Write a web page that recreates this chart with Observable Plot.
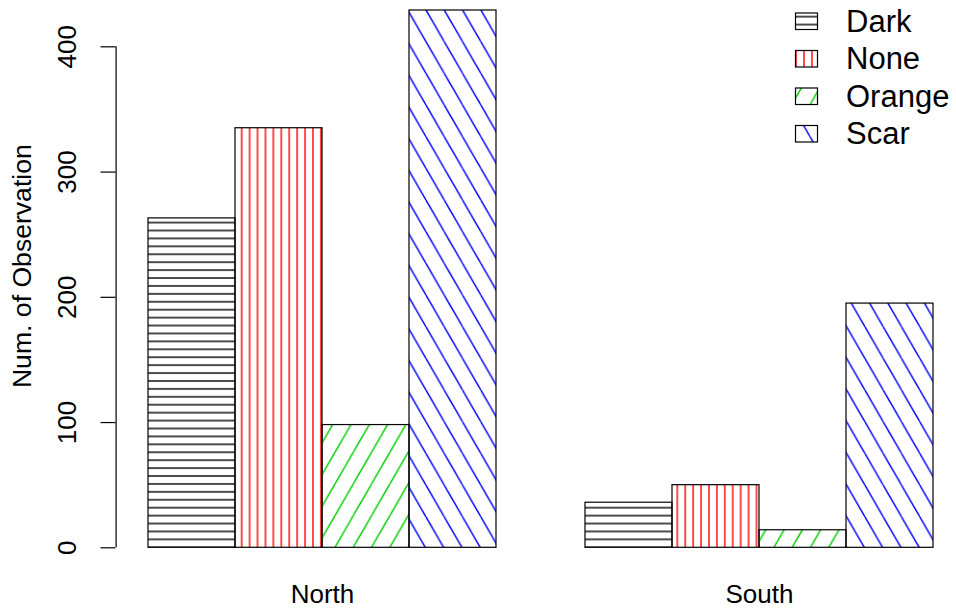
<!DOCTYPE html>
<html>
<head>
<meta charset="utf-8">
<script src="https://cdn.jsdelivr.net/npm/d3@7"></script>
<script src="https://cdn.jsdelivr.net/npm/@observablehq/plot@0.6"></script>
<style>
  html, body { margin: 0; padding: 0; background: #fff; overflow: hidden; }
  #wrap { position: relative; width: 956px; height: 610px; }
</style>
</head>
<body>
<div id="wrap"></div>
<script>
// ---------------- data ----------------
const groups = ["North", "South"];
const categories = ["Dark", "None", "Orange", "Scar"];
const northValues = [263, 335, 98, 429];
const southValues = [36, 50, 14, 195];
const yTicks = [0, 100, 200, 300, 400];
const yLabel = "Num. of Observation";

// ---------------- styles ----------------
const hatchColors = ["#000000", "#ff0000", "#00cd00", "#0000ff"];
const hatchKinds = ["h", "v", "up", "down"];
const hatchAnchors = [[0, 547.3], [241.7, 0], [335, 547.3], [426, 10]]; // phase of the hatch lines (page px)
const HATCH = 7.92;
const HATCH_W = 1.4;
const FONT = "'Liberation Sans', Arial, Helvetica, sans-serif";
const W = 956, H = 610;
const ML = 147, MR = 22, MT = 10, MB = 62.7;
const AXIS_GAP = 31.5, TICK = 15;

const valuesByGroup = {North: northValues, South: southValues};
const table = groups.flatMap(g => categories.map((c, i) => ({group: g, category: c, value: valuesByGroup[g][i]})));

// facet band width (same parameters as the fx scale below)
const fxBand = d3.scaleBand().domain(groups).range([ML, W - MR]).paddingInner(0.2).paddingOuter(0);
const bw = fxBand.bandwidth();
const first = () => groups[0];

const plot = Plot.plot({
  width: W, height: H,
  marginLeft: ML, marginRight: MR, marginTop: MT, marginBottom: MB,
  style: {fontFamily: FONT, background: "#fff", color: "#000", overflow: "visible"},
  fx: {domain: groups, paddingInner: 0.2, paddingOuter: 0, axis: null, label: null},
  x: {domain: categories, padding: 0, axis: null, label: null},
  y: {domain: [0, d3.max(table, d => d.value)], axis: null},
  color: {type: "identity"},
  marks: [
    Plot.barY(table, {
      fx: "group", x: "category", y: "value",
      fill: d => `url(#hatch-${d.category}-${d.group})`,
      stroke: "#000", strokeWidth: 1.2
    }),
    // y axis line (0 .. 400)
    Plot.ruleX([0], {x: null, fx: first, y1: () => yTicks[0], y2: () => yTicks[yTicks.length - 1],
      dx: -(bw / 2 + AXIS_GAP), stroke: "#000", strokeWidth: 1.2}),
    // y ticks
    Plot.axisY(yTicks, {anchor: "left", tickSize: TICK, dx: -AXIS_GAP, fill: "none", label: null, stroke: "#000", strokeWidth: 1.2}),
    // y tick labels (rotated, like R las=0)
    Plot.text(yTicks, {fx: first, y: d => d, text: d => String(d), frameAnchor: "left", dx: -80,
      rotate: -90, textAnchor: "middle", lineAnchor: "middle", fontSize: 26, fill: "#000"}),
    // y axis title
    Plot.text([yLabel], {fx: first, frameAnchor: "left", dx: -125, dy: -13, rotate: -90,
      textAnchor: "middle", lineAnchor: "middle", fontSize: 26.6, fill: "#000"}),
    // group labels
    Plot.text(groups, {fx: d => d, frameAnchor: "bottom", lineAnchor: "top", dy: 37, fontSize: 26, fill: "#000"})
  ]
});

const wrap = document.getElementById("wrap");
wrap.append(plot);

function buildPattern(defs, id, ci, tx, ty) {
  const s = HATCH, col = hatchColors[ci], k = hatchKinds[ci];
  const [ax, ay] = hatchAnchors[ci];
  const p = defs.append("pattern").attr("id", id).attr("patternUnits", "userSpaceOnUse");
  const seg = (x1, y1, x2, y2) => p.append("line")
    .attr("x1", x1).attr("y1", y1).attr("x2", x2).attr("y2", y2)
    .attr("stroke", col).attr("stroke-width", HATCH_W);
  if (k === "h") {
    p.attr("width", 16).attr("height", s).attr("x", 0).attr("y", ay - s / 2 - ty);
    seg(-1, s / 2, 17, s / 2);
  } else if (k === "v") {
    p.attr("width", s).attr("height", 16).attr("x", ax - s / 2 - tx).attr("y", 0);
    seg(s / 2, -1, s / 2, 17);
  } else {
    const w = 2 * s / Math.sin(Math.PI / 3), h = 2 * s / Math.cos(Math.PI / 3);
    p.attr("width", w).attr("height", h).attr("x", ax - tx).attr("y", ay - ty);
    for (const o of [-w, 0, w]) {
      if (k === "up") seg(o, h, o + w, 0); else seg(o, 0, o + w, h);
    }
  }
}

// hatch patterns, phased to page coordinates for each facet
const defs = d3.select(plot).insert("defs", ":first-child");
for (const g of groups) {
  const r = plot.querySelector(`rect[fill$="-${g})"]`);
  const m = r ? r.getCTM() : {e: 0, f: 0};
  categories.forEach((c, ci) => buildPattern(defs, `hatch-${c}-${g}`, ci, m.e, m.f));
}

// legend (top right, R-style with hatched boxes, no frame)
const leg = d3.select(wrap).append("svg")
  .attr("width", W).attr("height", H)
  .style("position", "absolute").style("left", "0px").style("top", "0px")
  .style("pointer-events", "none");
const ldefs = leg.append("defs");
categories.forEach((c, ci) => {
  buildPattern(ldefs, `leg-${c}`, ci, 0, 0);
  const yc = 21 + 37.5 * ci;
  leg.append("rect").attr("x", 795.5).attr("y", yc - 8).attr("width", 22).attr("height", 16.5)
    .attr("fill", `url(#leg-${c})`).attr("stroke", "#000").attr("stroke-width", 1.2);
  leg.append("text").attr("x", 846).attr("y", yc).attr("dominant-baseline", "central")
    .attr("font-family", FONT).attr("font-size", 31).attr("fill", "#000").text(c);
});
</script>
</body>
</html>
